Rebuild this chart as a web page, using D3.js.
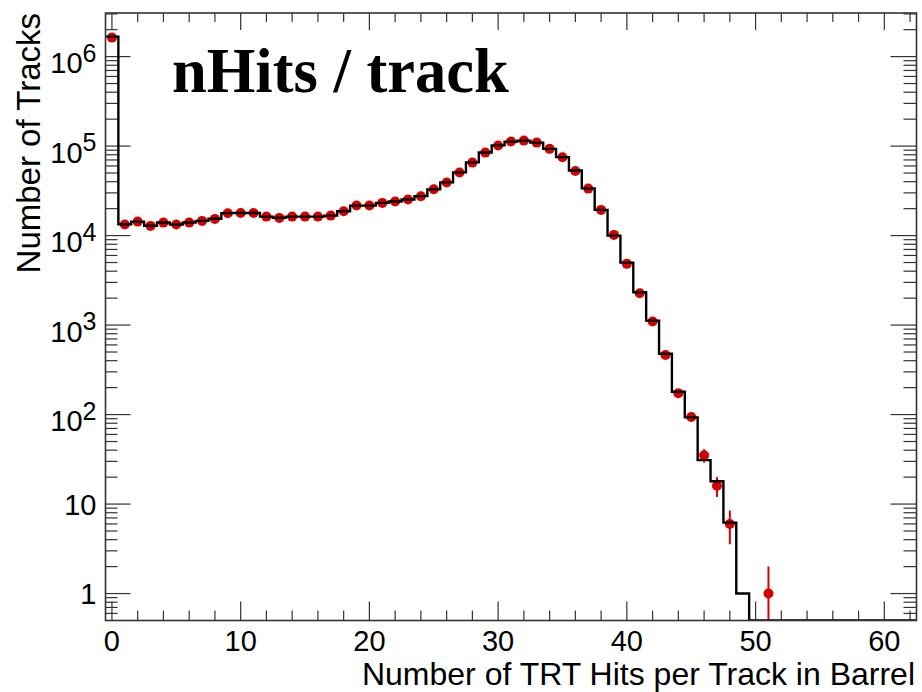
<!DOCTYPE html>
<html>
<head>
<meta charset="utf-8">
<script src="https://cdn.jsdelivr.net/npm/d3@7"></script>
<style>
  html, body { margin: 0; padding: 0; background: #fff; }
  svg { display: block; }
</style>
</head>
<body>
<svg id="chart" width="922" height="692"></svg>
<script>
// ---------- data ----------
const binCenters = [0,1,2,3,4,5,6,7,8,9,10,11,12,13,14,15,16,17,18,19,20,21,22,23,24,25,26,27,28,29,30,31,32,33,34,35,36,37,38,39,40,41,42,43,44,45,46,47,48,49,50,51,52,53,54,55,56,57,58,59,60,61,62];

// data points (red markers)
const dataCounts = [1630000, 13270, 14330, 12830, 13970, 13270, 13970, 14600, 15370, 17790,
  17900, 17900, 16300, 15770, 16300, 16300, 16300, 16720, 18740, 21640,
  21640, 23190, 23990, 25300, 27500, 33000, 39100, 50600, 65400, 84600,
  101300, 112300, 115200, 109400, 93100, 75200, 52800, 33500, 19370, 10180,
  4830, 2270, 1094, 464, 173, 94, 35, 16, 6, 0,
  0, 1, 0, 0, 0, 0, 0, 0, 0, 0, 0, 0, 0];

// reference histogram (black line)
const histCounts = [1670000, 13400, 14300, 12900, 14000, 13300, 14000, 14600, 15400, 17800,
  17900, 17900, 16300, 15800, 16300, 16300, 16300, 16700, 18700, 21600,
  21600, 23200, 24000, 25300, 27600, 32800, 39300, 50900, 65700, 84800,
  101800, 112300, 115200, 109400, 93100, 75200, 53300, 33700, 19370, 10000,
  4990, 2330, 1120, 478, 180, 93, 31, 18, 6.2, 1,
  0, 0, 0, 0, 0, 0, 0, 0, 0, 0, 0, 0, 0];

const xMajorTicks = [0, 10, 20, 30, 40, 50, 60];
const yMajorTicks = [1, 10, 100, 1000, 10000, 100000, 1000000];
const yTickLabels = [["1", null], ["10", null], ["10", "2"], ["10", "3"], ["10", "4"], ["10", "5"], ["10", "6"]];

const titleText = "nHits / track";
const xTitle = "Number of TRT Hits per Track in Barrel";
const yTitle = "Number of Tracks";

// ---------- layout ----------
const L = 105.5, R = 916.5, T = 13, B = 620.5;
const svg = d3.select("#chart");
const sans = "'Liberation Sans', Arial, Helvetica, sans-serif";
const serif = "'Liberation Serif', 'Times New Roman', Times, serif";
const axisColor = "#333";

const x = d3.scaleLinear().domain([-0.5, 62.5]).range([L, R]);
const yMin = 0.5, yMax = 3.07e6;
const y = d3.scaleLog().domain([yMin, yMax]).range([B, T]).clamp(true);
const yv = v => y(v > 0 ? v : yMin);

// clip
svg.append("defs").append("clipPath").attr("id", "clip")
  .append("rect").attr("x", L).attr("y", T).attr("width", R - L).attr("height", B - T);

// ---------- ticks ----------
const xMinor = d3.range(0, 63, 2).filter(v => v % 10 !== 0);
const yMinor = [];
[-1, 0, 1, 2, 3, 4, 5, 6].forEach(d => {
  for (let k = 2; k <= 9; k++) {
    const v = k * Math.pow(10, d);
    if (v > yMin && v < yMax) yMinor.push(v);
  }
});

const tickG = svg.append("g").attr("stroke", axisColor).attr("stroke-width", 1.2);
// bottom / top
xMajorTicks.forEach(v => {
  tickG.append("line").attr("x1", x(v)).attr("x2", x(v)).attr("y1", B).attr("y2", B - 19);
  tickG.append("line").attr("x1", x(v)).attr("x2", x(v)).attr("y1", T).attr("y2", T + 17);
});
xMinor.forEach(v => {
  tickG.append("line").attr("x1", x(v)).attr("x2", x(v)).attr("y1", B).attr("y2", B - 10);
  tickG.append("line").attr("x1", x(v)).attr("x2", x(v)).attr("y1", T).attr("y2", T + 9);
});
// left / right
yMajorTicks.forEach(v => {
  tickG.append("line").attr("x1", L).attr("x2", L + 25).attr("y1", y(v)).attr("y2", y(v));
  tickG.append("line").attr("x1", R).attr("x2", R - 26).attr("y1", y(v)).attr("y2", y(v));
});
yMinor.forEach(v => {
  tickG.append("line").attr("x1", L).attr("x2", L + 12).attr("y1", y(v)).attr("y2", y(v));
  tickG.append("line").attr("x1", R).attr("x2", R - 13).attr("y1", y(v)).attr("y2", y(v));
});

// ---------- data points with error bars ----------
const plot = svg.append("g").attr("clip-path", "url(#clip)");
const red = "#d60000";
const pts = binCenters.map((c, i) => ({ c, v: dataCounts[i], e: Math.sqrt(dataCounts[i]) }))
  .filter(d => d.v > 0);

plot.append("g").selectAll("line").data(pts).join("line")
  .attr("x1", d => x(d.c)).attr("x2", d => x(d.c))
  .attr("y1", d => yv(d.v + d.e))
  .attr("y2", d => yv(d.v - d.e))
  .attr("stroke", red).attr("stroke-width", 2);

plot.append("g").selectAll("circle").data(pts).join("circle")
  .attr("cx", d => x(d.c)).attr("cy", d => y(d.v))
  .attr("r", 5).attr("fill", red);

// ---------- histogram ----------
const stepPts = [];
binCenters.forEach((c, i) => {
  stepPts.push([c - 0.5, histCounts[i]]);
  stepPts.push([c + 0.5, histCounts[i]]);
});
plot.append("path")
  .attr("d", d3.line().x(d => x(d[0])).y(d => yv(d[1]))(stepPts))
  .attr("fill", "none").attr("stroke", "#000").attr("stroke-width", 2.4)
  .attr("stroke-linejoin", "miter");

// ---------- frame ----------
svg.append("rect").attr("x", L).attr("y", T).attr("width", R - L).attr("height", B - T)
  .attr("fill", "none").attr("stroke", axisColor).attr("stroke-width", 1.6);

// ---------- tick labels ----------
svg.append("g").selectAll("text").data(xMajorTicks).join("text")
  .attr("x", d => x(d)).attr("y", 650.5)
  .attr("text-anchor", "middle")
  .attr("font-family", sans).attr("font-size", 29).attr("fill", "#000")
  .text(d => d);

yMajorTicks.forEach((v, i) => {
  const [base, sup] = yTickLabels[i];
  const t = svg.append("text")
    .attr("x", 96.5)
    .attr("text-anchor", "end")
    .attr("font-family", sans).attr("fill", "#000");
  if (sup) {
    t.attr("y", y(v) + 16.5);
    t.append("tspan").attr("font-size", 29).text(base);
    t.append("tspan").attr("font-size", 25).attr("dy", -11.5).text(sup);
  } else {
    t.attr("y", y(v) + 10.5).attr("font-size", 29).text(base);
  }
});

// ---------- axis titles ----------
svg.append("text")
  .attr("x", 915).attr("y", 684.5)
  .attr("text-anchor", "end")
  .attr("font-family", sans).attr("font-size", 32).attr("fill", "#000")
  .text(xTitle);

svg.append("text")
  .attr("transform", "translate(40,13) rotate(-90)")
  .attr("text-anchor", "end")
  .attr("font-family", sans).attr("font-size", 33).attr("fill", "#000")
  .text(yTitle);

// ---------- title ----------
svg.append("text")
  .attr("x", 172).attr("y", 92)
  .attr("font-family", serif).attr("font-weight", "bold").attr("font-size", 62.5)
  .attr("fill", "#000")
  .text(titleText);
</script>
</body>
</html>
